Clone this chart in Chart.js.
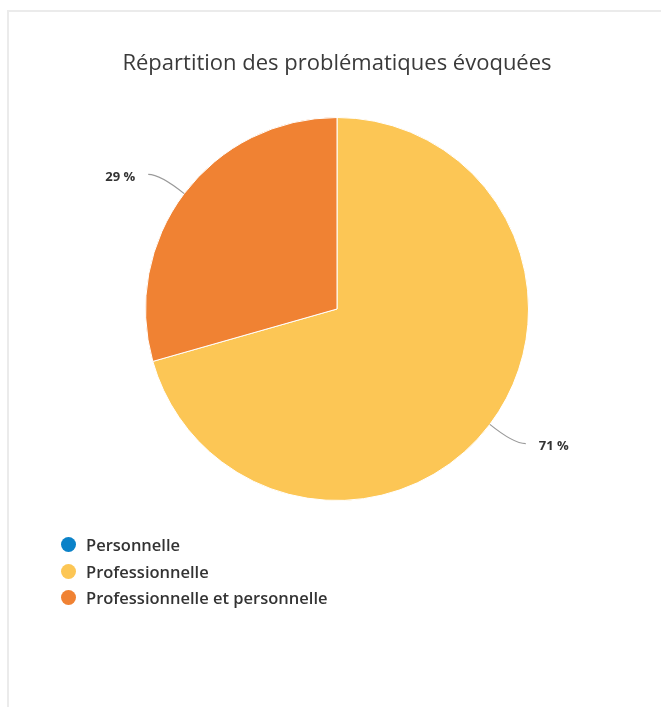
<!DOCTYPE html>
<html>
<head>
<meta charset="utf-8">
<script src="https://cdn.jsdelivr.net/npm/chart.js@4"></script>
<style>
  html, body { margin: 0; padding: 0; background: #fff; }
  body { width: 661px; height: 707px; position: relative; overflow: hidden; font-family: "Open Sans", sans-serif; }
  .card { position: absolute; left: 7px; top: 10px; width: 700px; height: 760px; border-left: 2px solid #ebebeb; border-top: 2px solid #ebebeb; }
  #wrap { position: absolute; left: 0; top: 0; width: 661px; height: 707px; }
  #legend { position: absolute; left: 61px; top: 533px; margin: 0; padding: 0; list-style: none; }
  #legend li { height: 26.5px; line-height: 24px; font-size: 16.5px; font-weight: 600; color: #333; white-space: nowrap; }
  #legend span { display: inline-block; width: 15px; height: 15px; border-radius: 50%; vertical-align: -1px; margin-right: 10px; }
</style>
</head>
<body>
<div class="card"></div>
<div id="wrap"><canvas id="pie"></canvas></div>
<ul id="legend"></ul>
<script>
// Données du graphique (effectifs)
const categories = ['Personnelle', 'Professionnelle', 'Professionnelle et personnelle'];
const values = [0, 12, 5];
const colors = ['#0b82c8', '#fcc655', '#f08233'];
const titre = 'Répartition des problématiques évoquées';

// Légende verticale en HTML
const legendEl = document.getElementById('legend');
categories.forEach((c, i) => {
  const li = document.createElement('li');
  li.innerHTML = '<span style="background:' + colors[i] + '"></span>' + c;
  legendEl.appendChild(li);
});

// Étiquettes avec trait de liaison
const labelLines = {
  id: 'labelLines',
  afterDatasetsDraw(chart) {
    const ctx = chart.ctx;
    const meta = chart.getDatasetMeta(0);
    const total = values.reduce((a, b) => a + b, 0);
    ctx.save();
    meta.data.forEach((arc, i) => {
      if (!values[i]) return;
      const p = arc.getProps(['x', 'y', 'startAngle', 'endAngle', 'outerRadius'], true);
      const mid = (p.startAngle + p.endAngle) / 2;
      const cos = Math.cos(mid), sin = Math.sin(mid);
      const x0 = p.x + cos * p.outerRadius, y0 = p.y + sin * p.outerRadius;
      const x1 = p.x + cos * (p.outerRadius + 30), y1 = p.y + sin * (p.outerRadius + 32);
      const side = cos >= 0 ? 1 : -1;
      const x2 = x1 + side * 12;
      ctx.strokeStyle = '#9a9a9a';
      ctx.lineWidth = 1.2;
      ctx.beginPath();
      ctx.moveTo(x0, y0);
      ctx.quadraticCurveTo(x1, y1, x2, y1);
      ctx.stroke();
      ctx.fillStyle = '#333';
      ctx.font = 'bold 13px "Open Sans", sans-serif';
      ctx.textBaseline = 'middle';
      ctx.textAlign = side > 0 ? 'left' : 'right';
      ctx.fillText(Math.round(values[i] / total * 100) + ' %', x2 + side * 13, y1 + 3);
    });
    ctx.restore();
  }
};

new Chart(document.getElementById('pie'), {
  type: 'pie',
  data: {
    labels: categories,
    datasets: [{
      data: values,
      backgroundColor: colors,
      borderColor: '#ffffff',
      borderWidth: 1
    }]
  },
  options: {
    responsive: true,
    maintainAspectRatio: false,
    animation: false,
    layout: { padding: { top: 0, left: 100, right: 87, bottom: 206 } },
    plugins: {
      legend: { display: false },
      tooltip: { enabled: false },
      title: {
        display: true,
        text: titre,
        color: '#3a3a3a',
        font: { family: '"Open Sans", sans-serif', size: 22, weight: 'normal', lineHeight: 1.2 },
        padding: { top: 51, bottom: 39.6 }
      }
    }
  },
  plugins: [labelLines]
});
</script>
</body>
</html>
